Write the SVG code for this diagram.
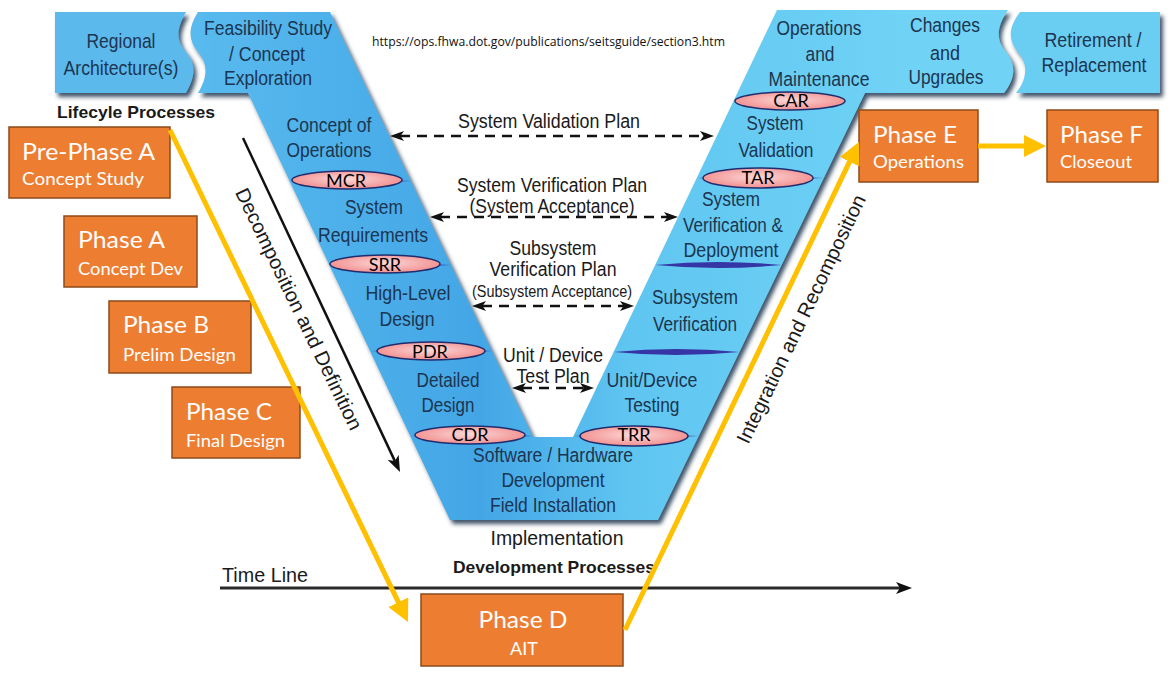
<svg xmlns="http://www.w3.org/2000/svg" width="1172" height="676" viewBox="0 0 1172 676">
<style>
.v{font-family:"Liberation Sans",Arial,sans-serif;font-size:20.5px;fill:#1c3550;text-anchor:middle}
.m{font-family:"Liberation Sans",Arial,sans-serif;font-size:20px;fill:#1a1a1a;text-anchor:middle}
.b{font-family:"Liberation Sans",Arial,sans-serif;font-weight:bold;font-size:17px;fill:#1a1a1a}
.ph{font-family:Lato,"Open Sans",sans-serif;fill:#ffffff}
.t1{font-size:24px}
.t2{font-size:18px}
.box{fill:#ed7d31;stroke:#8c4b1a;stroke-width:1.5}
.ell{fill:url(#pink);stroke:#1f2d6e;stroke-width:1.5}
.el{font-family:Lato,"Open Sans",sans-serif;font-size:18px;fill:#000;text-anchor:middle}
.dash{stroke:#111;stroke-width:2.5;stroke-dasharray:10 7;fill:none;marker-start:url(#ah);marker-end:url(#ah)}
.yel{stroke:#ffc000;stroke-width:5;fill:none;marker-end:url(#ya)}
.div{fill:#3535a5}
</style>
<defs>
<linearGradient id="vfill" gradientUnits="userSpaceOnUse" x1="200" y1="0" x2="900" y2="0">
<stop offset="0" stop-color="#58baee"/>
<stop offset="0.4" stop-color="#43a6e6"/>
<stop offset="0.62" stop-color="#60c6f1"/>
<stop offset="1" stop-color="#6fd2f5"/>
</linearGradient>
<radialGradient id="pink" cx="0.5" cy="0.45" r="0.55">
<stop offset="0" stop-color="#fcd8d8"/>
<stop offset="1" stop-color="#f28e8e"/>
</radialGradient>
<filter id="shadow" x="-5%" y="-5%" width="115%" height="120%">
<feDropShadow dx="3" dy="4" stdDeviation="2" flood-color="#1f3550" flood-opacity="0.85"/>
</filter>
<marker id="ah" viewBox="0 0 14 10" markerUnits="userSpaceOnUse" markerWidth="14" markerHeight="10" refX="4" refY="5" orient="auto-start-reverse">
<path d="M0,0 L14,5 L0,10 L3.5,5 Z" fill="#111"/>
</marker>
<marker id="bk" viewBox="0 0 16 12" markerUnits="userSpaceOnUse" markerWidth="16" markerHeight="12" refX="4" refY="6" orient="auto">
<path d="M0,0 L16,6 L0,12 L4,6 Z" fill="#111"/>
</marker>
<marker id="ya" viewBox="0 0 22 22" markerUnits="userSpaceOnUse" markerWidth="22" markerHeight="22" refX="6" refY="11" orient="auto">
<path d="M0,0 L22,11 L0,22 Z" fill="#ffc000"/>
</marker>
</defs>

<rect width="1172" height="676" fill="#ffffff"/>

<g id="v-shape" filter="url(#shadow)">
<path d="M55,12 L186,12 C176,30 176,40 186,52 C196,64 196,76 186,93 L55,93 Z" fill="#5bb9ec"/>
<path d="M198,12 L330,12 L533,437 L573,437 L777,10 L1008,10 C996,28 996,40 1006,52 C1016,64 1016,78 1004,93 L865,93 L658,520 L450,520 L248,93 L198,93 C208,76 208,64 198,52 C188,40 188,28 198,12 Z" fill="url(#vfill)"/>
<path d="M1020,12 L1160,12 L1160,93 L1016,93 C1028,78 1028,64 1018,52 C1008,40 1008,28 1020,12 Z" fill="#6acdf2"/>
</g>

<g id="dividers">
<path class="div" d="M289.8,181 Q350,178 410.9,181 Q350,184 289.8,181 Z"/>
<path class="div" d="M329.8,265 Q390,262 451.1,265 Q390,268 329.8,265 Z"/>
<path class="div" d="M370.6,351 Q431,348 492.3,351 Q431,354 370.6,351 Z"/>
<path class="div" d="M411,436 Q472,433 533,436 Q472,439 411,436 Z"/>
<path class="div" d="M573.5,436 Q636,433 698.7,436 Q636,439 573.5,436 Z"/>
<path class="div" d="M613.6,352 Q676,346 739.4,352 Q676,358 613.6,352 Z"/>
<path class="div" d="M655.2,265 Q718,259 781.6,265 Q718,271 655.2,265 Z"/>
<path class="div" d="M696.7,178 Q760,175 823.8,178 Q760,181 696.7,178 Z"/>
</g>

<g id="regional">
<text class="v" x="121" y="48" textLength="69" lengthAdjust="spacingAndGlyphs">Regional</text>
<text class="v" x="121" y="75" textLength="115" lengthAdjust="spacingAndGlyphs">Architecture(s)</text>
</g>
<g id="feasibility">
<text class="v" x="268" y="35" textLength="128" lengthAdjust="spacingAndGlyphs">Feasibility Study</text>
<text class="v" x="267" y="61" textLength="76" lengthAdjust="spacingAndGlyphs">/ Concept</text>
<text class="v" x="268" y="85" textLength="88" lengthAdjust="spacingAndGlyphs">Exploration</text>
</g>
<g id="concept-ops">
<text class="v" x="329" y="132" textLength="85" lengthAdjust="spacingAndGlyphs">Concept of</text>
<text class="v" x="329" y="157" textLength="85" lengthAdjust="spacingAndGlyphs">Operations</text>
</g>
<g id="sys-req">
<text class="v" x="374" y="214" textLength="58" lengthAdjust="spacingAndGlyphs">System</text>
<text class="v" x="373" y="242" textLength="110" lengthAdjust="spacingAndGlyphs">Requirements</text>
</g>
<g id="hl-design">
<text class="v" x="408" y="300" textLength="85" lengthAdjust="spacingAndGlyphs">High-Level</text>
<text class="v" x="407" y="326" textLength="55" lengthAdjust="spacingAndGlyphs">Design</text>
</g>
<g id="detailed-design">
<text class="v" x="448" y="387" textLength="63" lengthAdjust="spacingAndGlyphs">Detailed</text>
<text class="v" x="448" y="412" textLength="53" lengthAdjust="spacingAndGlyphs">Design</text>
</g>
<g id="sw-hw">
<text class="v" x="553" y="462" textLength="160" lengthAdjust="spacingAndGlyphs">Software / Hardware</text>
<text class="v" x="553" y="487" textLength="103" lengthAdjust="spacingAndGlyphs">Development</text>
<text class="v" x="553" y="512" textLength="126" lengthAdjust="spacingAndGlyphs">Field Installation</text>
</g>
<g id="unit-testing">
<text class="v" x="652" y="387" textLength="91" lengthAdjust="spacingAndGlyphs">Unit/Device</text>
<text class="v" x="652" y="412" textLength="55" lengthAdjust="spacingAndGlyphs">Testing</text>
</g>
<g id="subsystem-verification">
<text class="v" x="695" y="304" textLength="86" lengthAdjust="spacingAndGlyphs">Subsystem</text>
<text class="v" x="695" y="331" textLength="84" lengthAdjust="spacingAndGlyphs">Verification</text>
</g>
<g id="system-verification">
<text class="v" x="731" y="206" textLength="58" lengthAdjust="spacingAndGlyphs">System</text>
<text class="v" x="733" y="232" textLength="100" lengthAdjust="spacingAndGlyphs">Verification &amp;</text>
<text class="v" x="731" y="257" textLength="95" lengthAdjust="spacingAndGlyphs">Deployment</text>
</g>
<g id="system-validation">
<text class="v" x="775" y="130" textLength="57" lengthAdjust="spacingAndGlyphs">System</text>
<text class="v" x="776" y="157" textLength="75" lengthAdjust="spacingAndGlyphs">Validation</text>
</g>
<g id="ops-maint">
<text class="v" x="819" y="35" textLength="85" lengthAdjust="spacingAndGlyphs">Operations</text>
<text class="v" x="820" y="61" textLength="29" lengthAdjust="spacingAndGlyphs">and</text>
<text class="v" x="819" y="86" textLength="101" lengthAdjust="spacingAndGlyphs">Maintenance</text>
</g>
<g id="changes">
<text class="v" x="945" y="32" textLength="70" lengthAdjust="spacingAndGlyphs">Changes</text>
<text class="v" x="945" y="60" textLength="30" lengthAdjust="spacingAndGlyphs">and</text>
<text class="v" x="946" y="84" textLength="75" lengthAdjust="spacingAndGlyphs">Upgrades</text>
</g>
<g id="retirement">
<text class="v" x="1093" y="47" textLength="97" lengthAdjust="spacingAndGlyphs">Retirement /</text>
<text class="v" x="1094" y="72" textLength="105" lengthAdjust="spacingAndGlyphs">Replacement</text>
</g>

<g id="reviews">
<g id="mcr"><ellipse class="ell" cx="347" cy="180" rx="55" ry="9"/><text class="el" x="346" y="187">MCR</text></g>
<g id="srr"><ellipse class="ell" cx="385" cy="264" rx="55" ry="9"/><text class="el" x="385" y="271">SRR</text></g>
<g id="pdr"><ellipse class="ell" cx="431" cy="351" rx="54" ry="9"/><text class="el" x="430" y="358">PDR</text></g>
<g id="cdr"><ellipse class="ell" cx="470" cy="435" rx="55" ry="9"/><text class="el" x="470" y="441">CDR</text></g>
<g id="trr"><ellipse class="ell" cx="634" cy="436" rx="54" ry="10"/><text class="el" x="634" y="441">TRR</text></g>
<g id="tar"><ellipse class="ell" cx="758" cy="178" rx="55" ry="10"/><text class="el" x="758" y="184">TAR</text></g>
<g id="car"><ellipse class="ell" cx="790" cy="101" rx="55" ry="9"/><text class="el" x="791" y="107">CAR</text></g>
</g>

<g id="labels">
<text class="b" x="57" y="118" textLength="158" lengthAdjust="spacingAndGlyphs">Lifecyle Processes</text>
<text x="372" y="46" font-family="'Open Sans','Noto Sans',sans-serif" font-size="12" fill="#111" textLength="353" lengthAdjust="spacingAndGlyphs">https://ops.fhwa.dot.gov/publications/seitsguide/section3.htm</text>
<text class="m" x="549" y="128" textLength="182" lengthAdjust="spacingAndGlyphs">System Validation Plan</text>
<text class="m" x="552" y="192" textLength="190" lengthAdjust="spacingAndGlyphs">System Verification Plan</text>
<text class="m" x="552" y="213" textLength="165" lengthAdjust="spacingAndGlyphs">(System Acceptance)</text>
<text class="m" x="553" y="255" textLength="87" lengthAdjust="spacingAndGlyphs">Subsystem</text>
<text class="m" x="553" y="276" textLength="127" lengthAdjust="spacingAndGlyphs">Verification Plan</text>
<text class="m" x="552" y="297" style="font-size:16px" textLength="160" lengthAdjust="spacingAndGlyphs">(Subsystem Acceptance)</text>
<text class="m" x="553" y="362" textLength="100" lengthAdjust="spacingAndGlyphs">Unit / Device</text>
<text class="m" x="553" y="383" textLength="73" lengthAdjust="spacingAndGlyphs">Test Plan</text>
<text class="m" x="557" y="545" textLength="133" lengthAdjust="spacingAndGlyphs">Implementation</text>
<text class="b" x="453" y="573" textLength="202" lengthAdjust="spacingAndGlyphs">Development Processes</text>
<text class="m" x="265" y="582" textLength="86" lengthAdjust="spacingAndGlyphs">Time Line</text>
<text class="m" x="299" y="309" dominant-baseline="central" transform="rotate(64.2 299 309)" textLength="266" lengthAdjust="spacingAndGlyphs">Decomposition and Definition</text>
<text class="m" x="801" y="319" dominant-baseline="central" transform="rotate(-64.4 801 319)" textLength="273" lengthAdjust="spacingAndGlyphs">Integration and Recomposition</text>
</g>

<g id="phase-a-pre">
<rect class="box" x="9" y="127" width="161" height="71"/>
<text class="ph t1" x="22" y="160" textLength="133" lengthAdjust="spacingAndGlyphs">Pre-Phase A</text>
<text class="ph t2" x="22" y="185" textLength="122" lengthAdjust="spacingAndGlyphs">Concept Study</text>
</g>
<g id="phase-a">
<rect class="box" x="64" y="216" width="133" height="71"/>
<text class="ph t1" x="78" y="248" textLength="87" lengthAdjust="spacingAndGlyphs">Phase A</text>
<text class="ph t2" x="78" y="275" textLength="105" lengthAdjust="spacingAndGlyphs">Concept Dev</text>
</g>
<g id="phase-b">
<rect class="box" x="109" y="301" width="142" height="72"/>
<text class="ph t1" x="123" y="333" textLength="86" lengthAdjust="spacingAndGlyphs">Phase B</text>
<text class="ph t2" x="123" y="361" textLength="113" lengthAdjust="spacingAndGlyphs">Prelim Design</text>
</g>
<g id="phase-c">
<rect class="box" x="172" y="387" width="128" height="71"/>
<text class="ph t1" x="186" y="420" textLength="86" lengthAdjust="spacingAndGlyphs">Phase C</text>
<text class="ph t2" x="186" y="447" textLength="99" lengthAdjust="spacingAndGlyphs">Final Design</text>
</g>
<g id="phase-d">
<rect class="box" x="421" y="594" width="202" height="72"/>
<text class="ph t1" x="523" y="628" text-anchor="middle" textLength="89" lengthAdjust="spacingAndGlyphs">Phase D</text>
<text class="ph t2" x="524" y="655" text-anchor="middle">AIT</text>
</g>
<g id="phase-e">
<rect class="box" x="859" y="110" width="119" height="72"/>
<text class="ph t1" x="873" y="143" textLength="84" lengthAdjust="spacingAndGlyphs">Phase E</text>
<text class="ph t2" x="873" y="168" textLength="91" lengthAdjust="spacingAndGlyphs">Operations</text>
</g>
<g id="phase-f">
<rect class="box" x="1047" y="110" width="111" height="72"/>
<text class="ph t1" x="1060" y="143" textLength="83" lengthAdjust="spacingAndGlyphs">Phase F</text>
<text class="ph t2" x="1060" y="168" textLength="72" lengthAdjust="spacingAndGlyphs">Closeout</text>
</g>

<g id="connectors">
<line class="dash" x1="400" y1="136" x2="704" y2="136"/>
<line class="dash" x1="440" y1="217" x2="668" y2="217"/>
<line class="dash" x1="482" y1="306" x2="624" y2="306"/>
<line class="dash" x1="522" y1="388" x2="584" y2="388"/>
<line x1="243" y1="138" x2="394.9" y2="461.1" stroke="#111" stroke-width="2.5" marker-end="url(#bk)"/>
<line x1="220" y1="588" x2="900" y2="588" stroke="#2a2a2a" stroke-width="3" marker-end="url(#bk)"/>
<line class="yel" x1="170" y1="130" x2="401" y2="607.6"/>
<line class="yel" x1="625" y1="630" x2="852.1" y2="156.4"/>
<line class="yel" x1="978" y1="146" x2="1030" y2="146"/>
</g>
</svg>
